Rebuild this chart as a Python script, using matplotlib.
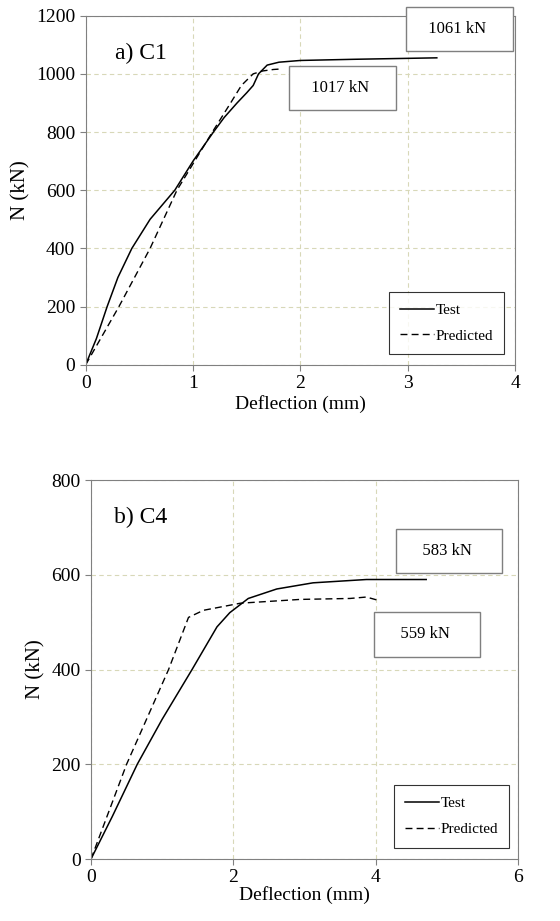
import matplotlib
matplotlib.use("Agg")
import matplotlib.pyplot as plt

plt.rcParams['font.family'] = ['Liberation Serif', 'DejaVu Serif']

# panel a) C1
c1_test_x = [0, 0.1, 0.2, 0.3, 0.43, 0.6, 0.83, 1.0, 1.19, 1.29, 1.41, 1.5, 1.56, 1.61, 1.69, 1.8, 2.0, 2.5, 3.27]
c1_test_y = [0, 90, 200, 300, 400, 500, 600, 700, 800, 850, 900, 935, 960, 1000, 1030, 1040, 1046, 1050, 1055]
c1_pred_x = [0, 0.31, 0.6, 0.85, 1.18, 1.35, 1.45, 1.56, 1.65, 1.75, 1.83]
c1_pred_y = [0, 200, 400, 600, 800, 900, 960, 1000, 1010, 1015, 1017]

# panel b) C4
c4_test_x = [0, 0.3, 0.65, 1.0, 1.42, 1.77, 1.95, 2.21, 2.61, 3.12, 3.87, 4.71]
c4_test_y = [0, 90, 200, 295, 400, 490, 520, 550, 570, 583, 590, 590]
c4_pred_x = [0, 0.25, 0.5, 1.09, 1.37, 1.58, 2.1, 2.94, 3.64, 3.87, 4.06]
c4_pred_y = [0, 100, 200, 400, 510, 525, 540, 548, 550, 553, 545]

fig = plt.figure(figsize=(5.6, 9.21), dpi=100)
ax1 = fig.add_axes([0.153, 0.604, 0.767, 0.379])
ax2 = fig.add_axes([0.1625, 0.0673, 0.7625, 0.4115])

grid_col = '#d8d8b8'
box = dict(boxstyle='square,pad=0.85', fc='white', ec='#7f7f7f', lw=1.0)


def style(ax, xmax, ymax, xstep, ystep):
    ax.set_xlim(0, xmax)
    ax.set_ylim(0, ymax)
    ax.set_xticks(range(0, xmax + 1, xstep))
    ax.set_yticks(range(0, ymax + 1, ystep))
    ax.grid(True, linestyle=(0, (4, 3)), color=grid_col, lw=0.8)
    for s in ax.spines.values():
        s.set_color('#808080')
        s.set_linewidth(0.8)
    ax.tick_params(labelsize=14, color='#808080', length=4)
    ax.set_xlabel("Deflection (mm)", fontsize=14, labelpad=2)
    ax.set_ylabel("N (kN)", fontsize=15)


def legend(ax, x):
    leg = ax.legend(loc='lower right', bbox_to_anchor=(x, 0.03), fontsize=11, fancybox=False,
                    edgecolor='black', handlelength=2.2, handletextpad=0.1, labelspacing=0.8,
                    borderpad=0.75, borderaxespad=0)
    leg.get_frame().set_linewidth(0.8)


ax1.plot(c1_test_x, c1_test_y, color='black', lw=1.1, label='Test')
ax1.plot(c1_pred_x, c1_pred_y, color='black', lw=1.0, linestyle=(0, (5, 3)), label='Predicted')
style(ax1, 4, 1200, 1, 200)
ax1.text(0.27, 1070, "a) C1", fontsize=17, va='center')
ax1.text(3.48, 1155, "  1061 kN   ", fontsize=12, ha='center', va='center', bbox=box, clip_on=False)
ax1.text(2.39, 952, "  1017 kN   ", fontsize=12, ha='center', va='center', bbox=box)
legend(ax1, 0.975)

ax2.plot(c4_test_x, c4_test_y, color='black', lw=1.1, label='Test')
ax2.plot(c4_pred_x, c4_pred_y, color='black', lw=1.0, linestyle=(0, (5, 3)), label='Predicted')
style(ax2, 6, 800, 2, 200)
ax2.xaxis.labelpad = 0
ax2.text(0.33, 720, "b) C4", fontsize=17, va='center')
ax2.text(5.03, 650, "   583 kN    ", fontsize=12, ha='center', va='center', bbox=box)
ax2.text(4.72, 474, "   559 kN    ", fontsize=12, ha='center', va='center', bbox=box)
legend(ax2, 0.98)

fig.savefig("out.png", dpi=100)
